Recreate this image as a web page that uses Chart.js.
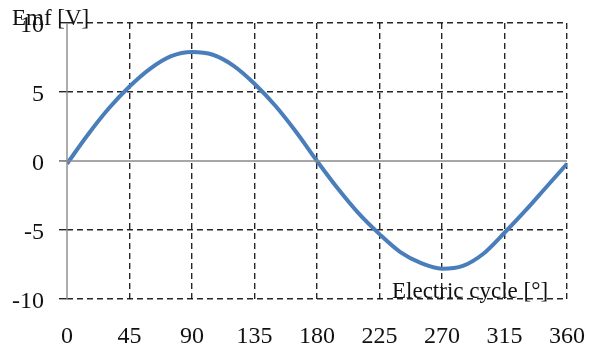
<!DOCTYPE html>
<html>
<head>
<meta charset="utf-8">
<style>
  html, body { margin: 0; padding: 0; background: #ffffff; }
  #wrap { width: 592px; height: 351px; }
</style>
<script src="https://cdn.jsdelivr.net/npm/chart.js@4/dist/chart.umd.min.js"></script>
</head>
<body>
<div id="wrap"><canvas id="c" width="592" height="351"></canvas></div>
<script>
// Electrical angle over one cycle, in degrees
const angles = [0, 15, 30, 45, 60, 75, 90, 105, 120, 135, 150, 165, 180,
                195, 210, 225, 240, 255, 270, 285, 300, 315, 330, 345, 360];
// Induced EMF in volts at each angle
const emf = [-0.2, 1.9, 3.8, 5.4, 6.7, 7.6, 7.9, 7.7, 6.9, 5.6, 4.0, 2.1, 0.0,
             -2.0, -3.8, -5.3, -6.6, -7.4, -7.8, -7.6, -6.7, -5.2, -3.6, -1.9, -0.2];
// Axis tick values
const xTicks = [0, 45, 90, 135, 180, 225, 270, 315, 360];
const yTicks = [-10, -5, 0, 5, 10];

const SERIF = '"Liberation Serif", "Times New Roman", serif';
const GRID = 'rgba(0,0,0,0.85)';
const AXIS = '#8a8a8a';
const TEXT = '#111111';

// Solid grey axes through x = 0 and y = 0, plus the two axis captions
const axesAndCaptions = {
  id: 'axesAndCaptions',
  afterDatasetsDraw(chart) {
    const { ctx, chartArea, scales } = chart;
    const x0 = scales.x.getPixelForValue(0);
    const y0 = scales.y.getPixelForValue(0);
    ctx.save();
    ctx.strokeStyle = AXIS;
    ctx.lineWidth = 1.4;
    ctx.beginPath();
    ctx.moveTo(x0, chartArea.top);
    ctx.lineTo(x0, chartArea.bottom);
    ctx.moveTo(x0 - 8, y0);
    ctx.lineTo(chartArea.right, y0);
    ctx.stroke();
    ctx.restore();
  },
  afterDraw(chart) {
    const { ctx } = chart;
    ctx.save();
    ctx.fillStyle = TEXT;
    ctx.font = '23px ' + SERIF;
    ctx.textBaseline = 'alphabetic';
    ctx.textAlign = 'left';
    ctx.fillText('Emf [V]', 12, 25);
    ctx.fillText('Electric cycle [°]', 392, 298);
    ctx.restore();
  }
};

new Chart(document.getElementById('c'), {
  type: 'line',
  data: {
    labels: angles,
    datasets: [{
      data: angles.map((a, i) => ({ x: a, y: emf[i] })),
      borderColor: '#4a7ebb',
      borderWidth: 4,
      pointRadius: 0,
      cubicInterpolationMode: 'monotone',
      fill: false
    }]
  },
  options: {
    responsive: false,
    animation: false,
    layout: { padding: { top: 23, right: 25, bottom: 0, left: 0 } },
    plugins: { legend: { display: false }, tooltip: { enabled: false } },
    scales: {
      x: {
        type: 'linear',
        min: 0,
        max: 360,
        afterBuildTicks(scale) { scale.ticks = xTicks.map(v => ({ value: v })); },
        afterFit(scale) {
          scale.height = 52;
          scale.paddingLeft = 0;
          scale.paddingRight = 0;
        },
        grid: {
          color: ctx => (ctx.tick && ctx.tick.value === 0) ? 'rgba(0,0,0,0)' : GRID,
          lineWidth: 1.4,
          drawTicks: false
        },
        border: { display: false, dash: [6, 4] },
        ticks: {
          padding: 23,
          maxRotation: 0,
          color: TEXT,
          font: { family: SERIF, size: 24 }
        }
      },
      y: {
        min: -10,
        max: 10,
        afterBuildTicks(scale) { scale.ticks = yTicks.map(v => ({ value: v })); },
        afterFit(scale) {
          scale.width = 67;
          scale.paddingTop = 0;
          scale.paddingBottom = 0;
        },
        grid: {
          color: ctx => (ctx.tick && ctx.tick.value === 0) ? 'rgba(0,0,0,0)' : GRID,
          tickColor: ctx => (ctx.tick && ctx.tick.value === 0) ? AXIS : GRID,
          lineWidth: 1.4,
          tickLength: 8
        },
        border: { display: false, dash: [6, 4] },
        ticks: {
          padding: 15,
          labelOffset: 3,
          color: TEXT,
          font: { family: SERIF, size: 24 }
        }
      }
    }
  },
  plugins: [axesAndCaptions]
});
</script>
</body>
</html>
